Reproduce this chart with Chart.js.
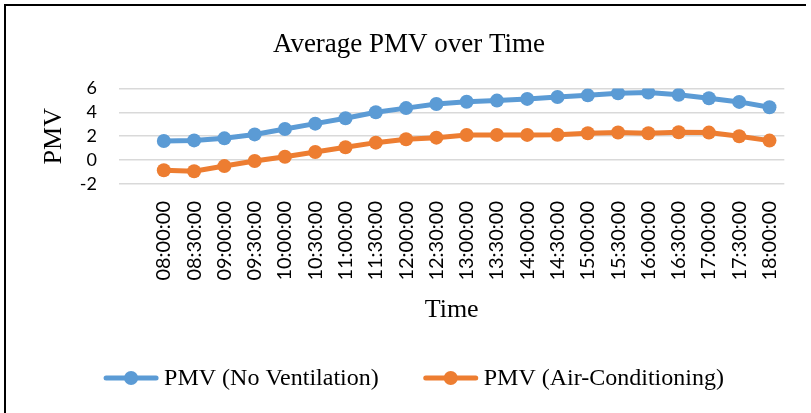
<!DOCTYPE html>
<html>
<head>
<meta charset="utf-8">
<script src="https://cdn.jsdelivr.net/npm/chart.js@4.4.1/dist/chart.umd.min.js"></script>
<style>
  html, body { margin: 0; padding: 0; background: #fff; }
  #wrap { position: relative; width: 811px; height: 413px; }
  #frame { position: absolute; left: 4px; top: 4px; width: 802px; height: 409px;
           border-left: 2px solid #000; border-top: 2px solid #000; box-sizing: border-box; pointer-events: none; }
</style>
</head>
<body>
<div id="wrap">
  <canvas id="pmvChart" width="811" height="413"></canvas>
  <div id="frame"></div>
</div>
<script>
const times = [
  "08:00:00", "08:30:00", "09:00:00", "09:30:00", "10:00:00", "10:30:00",
  "11:00:00", "11:30:00", "12:00:00", "12:30:00", "13:00:00", "13:30:00",
  "14:00:00", "14:30:00", "15:00:00", "15:30:00", "16:00:00", "16:30:00",
  "17:00:00", "17:30:00", "18:00:00"
];
const pmvNoVent = [1.6, 1.65, 1.82, 2.15, 2.6, 3.05, 3.5, 4.0, 4.35, 4.7, 4.88,
  4.98, 5.12, 5.28, 5.42, 5.6, 5.65, 5.46, 5.18, 4.87, 4.42];
const pmvAirCon = [-0.85, -0.93, -0.5, -0.08, 0.28, 0.68, 1.07, 1.46, 1.74, 1.88, 2.1,
  2.11, 2.11, 2.12, 2.25, 2.31, 2.25, 2.33, 2.3, 2.0, 1.63];
const yTicks = [-2, 0, 2, 4, 6];

const blue = "#5B9BD5";
const orange = "#ED7D31";
const serif = "'Liberation Serif', 'Times New Roman', serif";
const sans = "Lato, 'Open Sans', sans-serif";

function toPoints(values) {
  return values.map((v, i) => ({ x: i, y: v }));
}

// Excel-style legend (line sample with round marker), drawn under the axis title
const lineLegend = {
  id: "lineLegend",
  afterDraw(chart, args, opts) {
    const ctx = chart.ctx;
    const sets = chart.data.datasets;
    ctx.save();
    ctx.font = opts.fontSize + "px " + serif;
    ctx.textBaseline = "middle";
    const widths = sets.map((ds) => opts.sample + opts.textGap + ctx.measureText(ds.label).width);
    const total = widths.reduce((a, b) => a + b, 0) + opts.gap * (sets.length - 1);
    let x = opts.centerX - total / 2;
    const y = opts.y;
    sets.forEach((ds, i) => {
      ctx.strokeStyle = ds.borderColor;
      ctx.lineWidth = ds.borderWidth;
      ctx.lineCap = "round";
      ctx.beginPath();
      ctx.moveTo(x + 2, y);
      ctx.lineTo(x + opts.sample - 2, y);
      ctx.stroke();
      ctx.fillStyle = ds.borderColor;
      ctx.beginPath();
      ctx.arc(x + opts.sample / 2, y, ds.pointRadius, 0, Math.PI * 2);
      ctx.fill();
      ctx.fillStyle = "#000";
      ctx.fillText(ds.label, x + opts.sample + opts.textGap, y + 1);
      x += widths[i] + opts.gap;
    });
    ctx.restore();
  }
};

const ctx = document.getElementById("pmvChart").getContext("2d");
const pmvChart = new Chart(ctx, {
  type: "line",
  data: {
    datasets: [
      {
        label: "PMV (No Ventilation)",
        data: toPoints(pmvNoVent),
        borderColor: blue,
        backgroundColor: blue,
        borderWidth: 5,
        pointRadius: 7,
        pointBorderWidth: 0,
        pointBackgroundColor: blue,
      },
      {
        label: "PMV (Air-Conditioning)",
        data: toPoints(pmvAirCon),
        borderColor: orange,
        backgroundColor: orange,
        borderWidth: 5,
        pointRadius: 7,
        pointBorderWidth: 0,
        pointBackgroundColor: orange,
      },
    ],
  },
  options: {
    responsive: false,
    animation: false,
    events: [],
    layout: { padding: { left: 30, top: 6, right: 23, bottom: 95 } },
    plugins: {
      tooltip: { enabled: false },
      legend: { display: false },
      title: {
        display: true,
        text: "Average PMV over Time",
        color: "#000",
        font: { family: serif, size: 27, weight: "normal" },
        padding: { top: 23, bottom: 27 },
      },
      lineLegend: { centerX: 414, y: 378, sample: 54, textGap: 6, gap: 45, fontSize: 24 },
    },
    scales: {
      x: {
        type: "linear",
        min: -1.48,
        max: 20.49,
        afterBuildTicks(scale) {
          scale.ticks = times.map((t, i) => ({ value: i }));
        },
        afterFit(scale) {
          scale.height = 134;
        },
        grid: { display: false, drawTicks: false },
        border: { display: false },
        ticks: {
          autoSkip: false,
          minRotation: 90,
          maxRotation: 90,
          padding: 17,
          color: "#000",
          font: { family: sans, size: 20 },
          callback: (v) => times[v],
        },
        title: {
          display: true,
          text: "Time",
          color: "#000",
          font: { family: serif, size: 26 },
          padding: { top: 0, bottom: -8 },
        },
      },
      y: {
        min: -2,
        max: 6,
        afterBuildTicks(scale) {
          scale.ticks = yTicks.map((v) => ({ value: v }));
        },
        afterFit(scale) {
          scale.width = 89;
        },
        grid: { color: "#D9D9D9", lineWidth: 1.5, drawTicks: false },
        border: { display: false },
        ticks: {
          autoSkip: false,
          padding: 22,
          color: "#000",
          font: { family: sans, size: 18, lineHeight: 1 },
        },
        title: {
          display: true,
          text: "PMV",
          color: "#000",
          font: { family: serif, size: 26 },
          padding: { top: 9, bottom: 0 },
        },
      },
    },
  },
  plugins: [lineLegend],
});
</script>
</body>
</html>
